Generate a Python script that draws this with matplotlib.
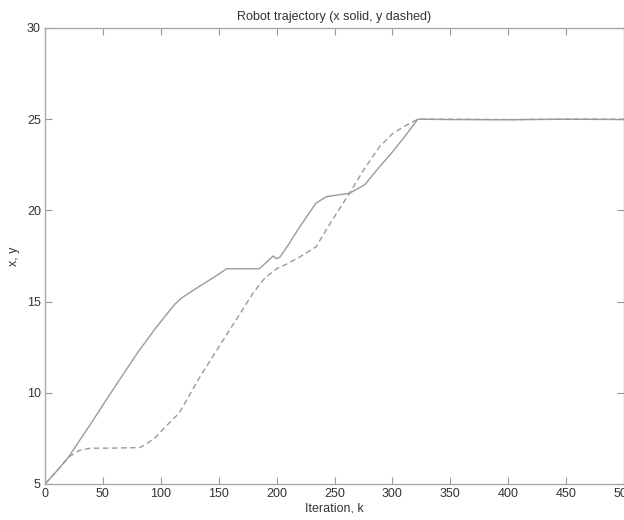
import matplotlib
matplotlib.use("Agg")
import matplotlib.pyplot as plt

# x trajectory (solid)
k_x = [0, 10, 20, 40, 60, 80, 95, 105, 112, 118, 130, 145, 157, 170, 185, 192, 197, 200, 203,
       210, 220, 234, 243, 253, 263, 276, 289, 300, 310, 322, 350, 400, 450, 500]
x_vals = [5.0, 5.7, 6.45, 8.35, 10.3, 12.2, 13.5, 14.3, 14.85, 15.2, 15.7, 16.3, 16.8, 16.8, 16.8,
          17.2, 17.5, 17.35, 17.45, 18.1, 19.1, 20.4, 20.75, 20.85, 20.94, 21.4, 22.4, 23.2,
          24.0, 25.0, 24.98, 24.97, 25.0, 24.98]

# y trajectory (dashed)
k_y = [0, 10, 21, 30, 39, 60, 82, 90, 96, 105, 116, 125, 134, 150, 165, 180, 190, 200,
       210, 220, 234, 248, 263, 275, 289, 300, 310, 322, 350, 400, 450, 500]
y_vals = [5.0, 5.7, 6.5, 6.85, 6.96, 6.97, 7.0, 7.3, 7.6, 8.2, 8.9, 9.9, 10.9, 12.5, 14.0,
          15.5, 16.3, 16.8, 17.1, 17.45, 18.0, 19.47, 20.94, 22.2, 23.5, 24.2, 24.6, 25.0,
          25.0, 24.98, 25.0, 25.0]

x_ticks = [0, 50, 100, 150, 200, 250, 300, 350, 400, 450, 500]
y_ticks = [5, 10, 15, 20, 25, 30]

plt.rcParams['font.family'] = ['Liberation Sans', 'DejaVu Sans']

fig = plt.figure(figsize=(6.24, 5.2), dpi=100)
ax = fig.add_axes([45/624, 1 - 484/520, 579/624, 456/520])

line_col = '#9a9a9a'
ax.plot(k_x, x_vals, color=line_col, lw=1.0, ls='-')
ax.plot(k_y, y_vals, color=line_col, lw=1.0, ls=(0, (4, 2.5)))

ax.set_xlim(0, 500)
ax.set_ylim(5, 30)
ax.set_xticks(x_ticks)
ax.set_yticks(y_ticks)

text_col = '#333333'
ax.tick_params(direction='in', length=5, width=0.8, color='#999999',
               labelcolor=text_col, labelsize=9, top=True, right=True, pad=3)
for s in ax.spines.values():
    s.set_color('#aaaaaa')
    s.set_linewidth(1.0)

ax.set_title('Robot trajectory (x solid, y dashed)', fontsize=9, color=text_col, pad=6)
ax.set_xlabel('Iteration, k', fontsize=9, color=text_col, labelpad=2)
ax.set_ylabel('x, y', fontsize=9, color=text_col, labelpad=5)

fig.savefig('out.png', dpi=100)
